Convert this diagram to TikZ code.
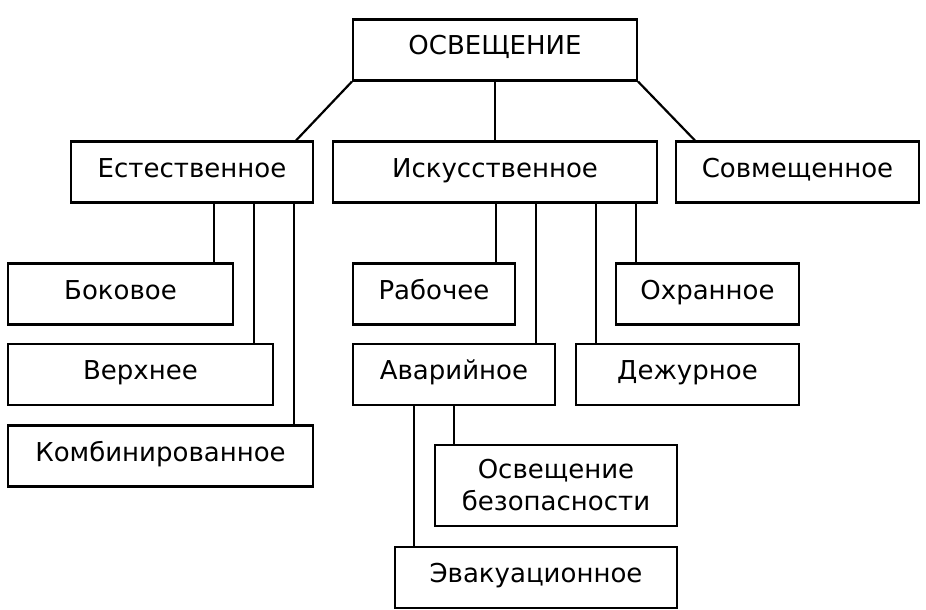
\documentclass[tikz,border=0pt]{standalone}
\usepackage{fontspec}
\setmainfont{DejaVu Sans}
\usetikzlibrary{calc}

\begin{document}
\begin{tikzpicture}[
  x=1pt, y=-1pt,
  font=\fontsize{26}{32}\selectfont,
  box/.style={draw, line width=2.2pt, inner sep=0pt, minimum height=61pt, text height=19pt, text depth=9pt},
  twobox/.style={draw, line width=2.2pt, inner sep=0pt, minimum height=81pt, align=center},
  link/.style={line width=2.2pt}
]
\useasboundingbox (0,0) rectangle (926,610);
% top level
\node[box, minimum width=284pt] (root) at (495,50) {ОСВЕЩЕНИЕ};
\node[box, minimum width=242pt] (nat) at (192,172) {Естественное};
\node[box, minimum width=324pt] (art) at (495,172) {Искусственное};
\node[box, minimum width=243pt] (mix) at (797.5,172) {Совмещенное};
% natural light
\node[box, minimum width=225pt] (side) at (120.5,294) {Боковое};
\node[box, minimum width=265pt] (upper) at (140.5,374.5) {Верхнее};
\node[box, minimum width=305pt] (combo) at (160.5,456) {Комбинированное};
% artificial light
\node[box, minimum width=162pt] (work) at (434,294) {Рабочее};
\node[box, minimum width=202pt] (emerg) at (454,374.5) {Аварийное};
\node[box, minimum width=183pt] (guard) at (707.5,294) {Охранное};
\node[box, minimum width=223pt] (duty) at (687.5,374.5) {Дежурное};
\node[twobox, minimum width=242pt] (safe) at (556,485.5) {Освещение\\безопасности};
\node[box, minimum width=282pt] (evac) at (536,577.5) {Эвакуационное};
% links
\draw[link] (root.south west) -- ([xshift=-18pt]nat.north east);
\draw[link] (root.south) -- (art.north);
\draw[link] (root.south east) -- ([xshift=20pt]mix.north west);
\draw[link] ([xshift=-20pt]side.north east) -- ([xshift=-20pt]side.north east |- nat.south);
\draw[link] ([xshift=-20pt]upper.north east) -- ([xshift=-20pt]upper.north east |- nat.south);
\draw[link] ([xshift=-20pt]combo.north east) -- ([xshift=-20pt]combo.north east |- nat.south);
\draw[link] ([xshift=-20pt]work.north east) -- ([xshift=-20pt]work.north east |- art.south);
\draw[link] ([xshift=-20pt]emerg.north east) -- ([xshift=-20pt]emerg.north east |- art.south);
\draw[link] ([xshift=21pt]guard.north west) -- ([xshift=21pt]guard.north west |- art.south);
\draw[link] ([xshift=21pt]duty.north west) -- ([xshift=21pt]duty.north west |- art.south);
\draw[link] ([xshift=20pt]safe.north west) -- ([xshift=20pt]safe.north west |- emerg.south);
\draw[link] ([xshift=20pt]evac.north west) -- ([xshift=20pt]evac.north west |- emerg.south);
\end{tikzpicture}
\end{document}
